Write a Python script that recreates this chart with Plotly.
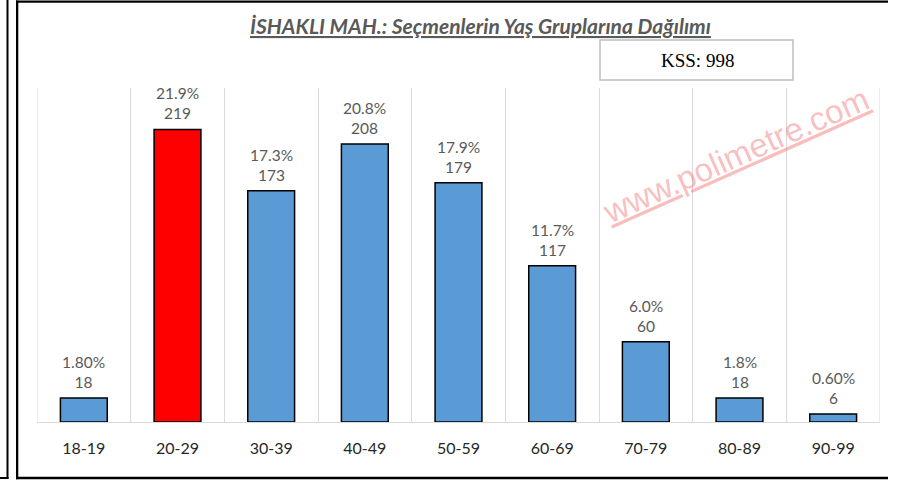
import plotly.graph_objects as go

categories = ["18-19", "20-29", "30-39", "40-49", "50-59", "60-69", "70-79", "80-89", "90-99"]
values = [18, 219, 173, 208, 179, 117, 60, 18, 6]
pct_labels = ["1.80%", "21.9%", "17.3%", "20.8%", "17.9%", "11.7%", "6.0%", "1.8%", "0.60%"]
highlight = "20-29"
title_text = "İSHAKLI MAH.: Seçmenlerin Yaş Gruplarına Dağılımı"
kss_text = "KSS: 998"
watermark = "www.polimetre.com"

W, H = 898, 481
L, R, T, B = 37, 18, 88, 59
pw, ph = W - L - R, H - T - B
FONT = "Lato, Noto Sans, sans-serif"

def px(x):
    return (x - L) / pw

def py(y):
    return (H - B - y) / ph

def bar_rect(x0, x1, y0, y1):
    return dict(type="rect", xref="paper", yref="paper",
                x0=px(x0), x1=px(x1), y0=py(y1), y1=py(y0),
                fillcolor="#000000", line=dict(width=0), layer="above")

colors = ["#FF0000" if c == highlight else "#5B9BD5" for c in categories]

fig = go.Figure(go.Bar(
    x=categories, y=values, width=0.5,
    marker=dict(color=colors, line=dict(color="#000000", width=1.5)),
    hoverinfo="skip",
))

label_anns = [
    dict(x=c, y=v, xref="x", yref="y", text=f"{p}<br>{v}", showarrow=False,
         xanchor="center", yanchor="bottom", yshift=5,
         font=dict(family=FONT, size=15.5, color="#595959"))
    for c, v, p in zip(categories, values, pct_labels)
]

fig.update_layout(
    width=W, height=H,
    margin=dict(l=L, r=R, t=T, b=B),
    paper_bgcolor="white", plot_bgcolor="white",
    showlegend=False,
    xaxis=dict(
        type="category", range=[-0.5, 8.5], tickson="boundaries",
        showgrid=True, gridcolor="#D9D9D9", gridwidth=1,
        showline=True, linecolor="#D9D9D9", linewidth=1,
        ticks="", ticklabelstandoff=12,
        tickfont=dict(family=FONT, size=16, color="#262626"),
        zeroline=False, fixedrange=True,
    ),
    yaxis=dict(range=[0, 250], visible=False, showgrid=False, zeroline=False, fixedrange=True),
    shapes=[
        dict(type="line", xref="x", yref="paper", x0=-0.5, x1=-0.5, y0=0, y1=1,
             line=dict(color="#D9D9D9", width=1)),
        dict(type="line", xref="x", yref="paper", x0=8.5, x1=8.5, y0=0, y1=1,
             line=dict(color="#D9D9D9", width=1)),
        bar_rect(16, W - 10, 0.5, 2.8),
        bar_rect(16, 18.3, 0.5, 479.2),
        bar_rect(16, W - 10, 476.8, 479.2),
        bar_rect(6.5, 8.5, 0, 479),
        bar_rect(0, 8.5, 477, 479),
        dict(type="rect", xref="paper", yref="paper",
             x0=px(600), x1=px(793), y0=py(80), y1=py(40),
             line=dict(color="#BFBFBF", width=1.5), fillcolor="white"),
    ],
    annotations=label_anns + [
        dict(xref="paper", yref="paper", x=px(480), y=py(26), xanchor="center", yanchor="middle",
             text=f"<b><i><u>{title_text}</u></i></b>", showarrow=False,
             font=dict(family=FONT, size=21, color="#595959")),
        dict(xref="paper", yref="paper", x=px(697), y=py(60), xanchor="center", yanchor="middle",
             text=kss_text, showarrow=False,
             font=dict(family="Liberation Serif, serif", size=19, color="#000000")),
        dict(xref="paper", yref="paper", x=px(735), y=py(155), xanchor="center", yanchor="middle",
             text=f"<u>{watermark}</u>", showarrow=False, textangle=-24,
             font=dict(family="Liberation Sans, Arial, sans-serif", size=33, color="rgba(238,100,100,0.42)")),
    ],
)

fig.write_html(
    "out.html",
    config={"displayModeBar": False, "staticPlot": True},
    post_script="document.body.style.margin='0';document.body.style.padding='0';document.body.style.overflow='hidden';",
)
